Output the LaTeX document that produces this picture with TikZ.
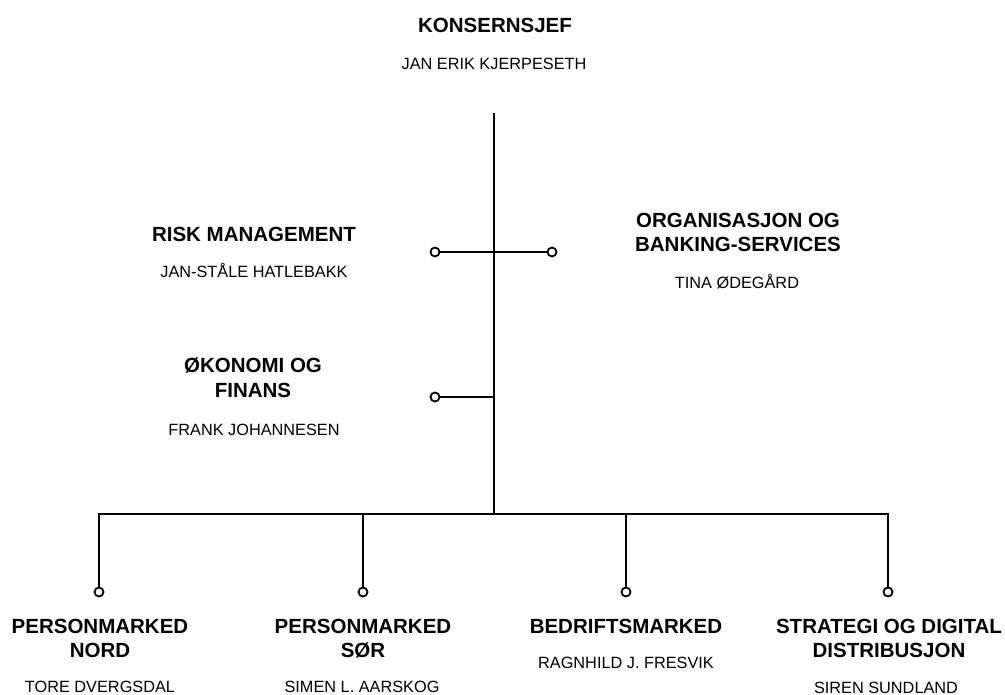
\documentclass[tikz,border=0pt]{standalone}
\usepackage{fontspec}
\setmainfont{Liberation Sans}
\newcommand\orgTitle{\fontsize{20.5}{24}\selectfont\bfseries}
\newcommand\orgName{\fontsize{16.3}{20}\selectfont}
\tikzset{
  ttl/.style={font=\orgTitle, anchor=base, inner sep=0pt},
  nm/.style={font=\orgName, anchor=base, inner sep=0pt},
  conn/.style={line width=2pt, line join=miter},
  dot/.style={circle, draw, line width=1.8pt, fill=white, minimum size=9pt, inner sep=0pt}
}
\begin{document}
\begin{tikzpicture}[x=1pt,y=-1pt]
\useasboundingbox (0,0) rectangle (1005,695);
% texts
\node[ttl] (ceo) at (495,33) {KONSERNSJEF};
\node[nm] (ceoN) at (494,70) {JAN ERIK KJERPESETH};
\node[ttl] (risk) at (254,242) {RISK MANAGEMENT};
\node[nm] (riskN) at (254,278) {JAN-STÅLE HATLEBAKK};
\node[ttl] (orgA) at (738,228) {ORGANISASJON OG};
\node[ttl] (orgB) at (738,252) {BANKING-SERVICES};
\node[nm] (orgN) at (737,289) {TINA ØDEGÅRD};
\node[ttl] (okoA) at (253,373) {ØKONOMI OG};
\node[ttl] (okoB) at (253,397) {FINANS};
\node[nm] (okoN) at (254,435) {FRANK JOHANNESEN};
\node[ttl] (pnA) at (100,633) {PERSONMARKED};
\node[ttl] (pnB) at (100,657) {NORD};
\node[nm] (pnN) at (100,692) {TORE DVERGSDAL};
\node[ttl] (psA) at (363,633) {PERSONMARKED};
\node[ttl] (psB) at (363,657) {SØR};
\node[nm] (psN) at (362,692) {SIMEN L. AARSKOG};
\node[ttl] (bm) at (626,633) {BEDRIFTSMARKED};
\node[nm] (bmN) at (626,668) {RAGNHILD J. FRESVIK};
\node[ttl] (sdA) at (889,633) {STRATEGI OG DIGITAL};
\node[ttl] (sdB) at (889,657) {DISTRIBUSJON};
\node[nm] (sdN) at (886,693) {SIREN SUNDLAND};
% connector points
\coordinate (top) at (494,113);
\coordinate (j2) at (494,397);
\coordinate (j3) at (494,514);
\coordinate (b1) at (99,514);
\coordinate (b2) at (363,514);
\coordinate (b3) at (626,514);
\coordinate (b4) at (888,514);
% circles
\node[dot] (r1) at (435,252) {};
\node[dot] (r2) at (552,252) {};
\node[dot] (f1) at (435,397) {};
\node[dot] (d1) at (99,592) {};
\node[dot] (d2) at (363,592) {};
\node[dot] (d3) at (626,592) {};
\node[dot] (d4) at (888,592) {};
% connectors
\draw[conn] (top) -- (j3);
\draw[conn] (r1) -- (r2);
\draw[conn] (f1) -- (j2);
\draw[conn] (d1) -- (b1) -- (b4) -- (d4);
\draw[conn] (b2) -- (d2);
\draw[conn] (b3) -- (d3);
\end{tikzpicture}
\end{document}
